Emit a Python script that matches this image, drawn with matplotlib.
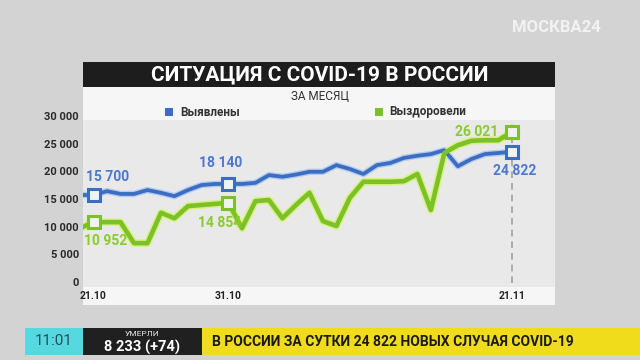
import matplotlib
matplotlib.use('Agg')
import matplotlib.pyplot as plt
from matplotlib.patches import Rectangle
import numpy as np

plt.rcParams['font.family'] = ['Roboto', 'DejaVu Sans']

# daily values, 20.10 ... 21.11
days = np.arange(33)
detected = [15900, 15900, 16600, 16100, 16100, 16800, 16300, 15700, 16800, 17700,
            17900, 17900, 17900, 18100, 19500, 19200, 19600, 20100, 20100, 21300,
            20600, 19700, 21300, 21700, 22600, 23000, 23300, 24000, 21100, 22400,
            23300, 23500, 23700]
recovered = [9900, 11000, 11000, 11000, 7200, 7200, 12700, 11700, 13900, 14100,
             14300, 14500, 9900, 14800, 15000, 11700, 14100, 16300, 11200, 10300,
             15400, 18300, 18300, 18300, 18400, 19700, 13200, 23500, 24900, 25700,
             25800, 25800, 27300]

tick_idx = [1, 11, 32]
tick_labels = ['21.10', '31.10', '21.11']
marker_idx = [1, 11, 32]
detected_labels = ['15 700', '18 140', '24 822']
recovered_labels = ['10 952', '14 854', '26 021']
yticks = [0, 5000, 10000, 15000, 20000, 25000, 30000]

blue = '#3b6ec2'
blue_txt = '#4a78d2'
green = '#7cc12a'
green_txt = '#8acb2e'

W, H = 640, 360


def box(x0, y0, x1, y1, color, z=-5):
    # rectangle in pixel coords (top-left origin)
    fig.add_artist(Rectangle((x0 / W, 1 - y1 / H), (x1 - x0) / W, (y1 - y0) / H,
                             transform=fig.transFigure, facecolor=color,
                             edgecolor='none', zorder=z))


def ftext(x, y, s, **kw):
    fig.text(x / W, 1 - y / H, s, **kw)


fig = plt.figure(figsize=(6.4, 3.6), dpi=100)
fig.patch.set_facecolor('#d3d3d3')

# panel
box(83, 87, 555, 305, '#f6f6f6')
box(83, 62, 555, 87, '#1d1d1d')
ftext(320, 75, 'СИТУАЦИЯ С COVID-19 В РОССИИ', fontsize=15, fontweight='bold',
      color='white', ha='center', va='center')
ftext(320, 97, 'ЗА МЕСЯЦ', fontsize=8.5, color='#333333', ha='center', va='center')

# legend
box(165, 108, 173, 116, blue, z=2)
ftext(180, 112, 'Выявлены', fontsize=8.5, fontweight='bold', color='#333333',
      ha='left', va='center')
box(375, 108, 383, 116, green, z=2)
ftext(389, 112, 'Выздоровели', fontsize=8.5, fontweight='bold', color='#333333',
      ha='left', va='center')

# plot area
ax = fig.add_axes([83 / W, 1 - 287 / H, (555 - 83) / W, (287 - 120) / H])
ax.set_facecolor('#e9e9e9')
for s in ax.spines.values():
    s.set_visible(False)
ax.set_xlim(0.22, 35.2)
ax.set_ylim(-720, 29460)

ax.vlines(days[-1], 0, 29460, colors='#a0a0a0', linestyles=(0, (4, 3)), lw=1.2, zorder=1)

ax.plot(days, detected, color='#b3cbf0', lw=4.6, solid_joinstyle='round', zorder=2)
ax.plot(days, detected, color=blue, lw=2.7, solid_joinstyle='round', zorder=3)
ax.plot(days, recovered, color='#d8f27c', lw=5.4, solid_joinstyle='round', zorder=2)
ax.plot(days, recovered, color=green, lw=3.3, solid_joinstyle='round', zorder=3)

ax.plot(marker_idx, [detected[i] for i in marker_idx], ls='none', marker='s',
        ms=9, mfc='#f2f2f2', mec=blue, mew=2.2, zorder=5, clip_on=False)
ax.plot(marker_idx, [recovered[i] for i in marker_idx], ls='none', marker='s',
        ms=9, mfc='#f2f2f2', mec=green, mew=2.2, zorder=5, clip_on=False)

det_off = [(14.5, 18), (-7.5, 21), (3, -19)]
rec_off = [(12, -19), (-9, -20), (-35, 0)]
for i, lab, off in zip(marker_idx, detected_labels, det_off):
    ax.annotate(lab, (i, detected[i]), xytext=off, textcoords='offset pixels',
                ha='center', va='center', fontsize=10, fontweight='bold',
                color=blue_txt, zorder=6)
for i, lab, off in zip(marker_idx, recovered_labels, rec_off):
    ax.annotate(lab, (i, recovered[i]), xytext=off, textcoords='offset pixels',
                ha='center', va='center', fontsize=10, fontweight='bold',
                color=green_txt, zorder=6)

# axis labels
ax.set_yticks([])
for v in yticks:
    ax.text(-0.0085, v, f'{v:,}'.replace(',', ' '), transform=ax.get_yaxis_transform(),
            ha='right', va='center', fontsize=8, fontweight='bold', color='#2a2a2a')
ax.set_xticks(tick_idx, tick_labels)
ax.tick_params(axis='x', length=0, pad=3, labelsize=7.5, labelcolor='#222222')
for t in ax.get_xticklabels():
    t.set_fontweight('bold')

# channel logo
ftext(556, 28, 'МОСКВА24', fontsize=12, fontweight='bold', color='#f2f2f2',
      ha='center', va='center')

# bottom ticker
box(25, 328, 83, 355, '#55d8df', z=1)
box(83, 328, 202, 355, '#202020', z=1)
box(202, 328, 640, 355, '#f1dc1c', z=1)
ftext(54, 341, '11:01', fontsize=11, color='#2b4d55', ha='center', va='center')
ftext(142, 334, 'УМЕРЛИ', fontsize=6, color='#e8e8e8', ha='center', va='center')
ftext(142, 347, '8 233 (+74)', fontsize=10.5, fontweight='bold', color='white',
      ha='center', va='center')
ftext(212, 342, 'В РОССИИ ЗА СУТКИ 24 822 НОВЫХ СЛУЧАЯ COVID-19', fontsize=10,
      fontweight='bold', color='#1a1a1a', ha='left', va='center')

fig.savefig('out.png', dpi=100)
